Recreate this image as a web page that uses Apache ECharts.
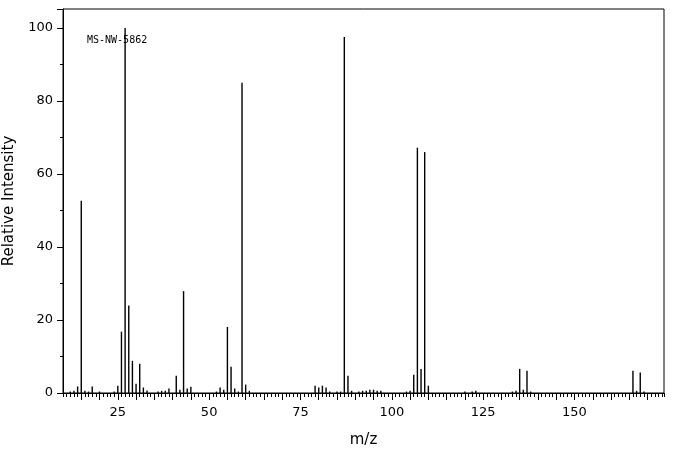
<!DOCTYPE html>
<html>
<head>
<meta charset="utf-8">
<script src="https://cdn.jsdelivr.net/npm/echarts@6/dist/echarts.min.js"></script>
<style>
    html, body { margin: 0; padding: 0; background: #fff; }
    #chart { width: 676px; height: 455px; }
</style>
</head>
<body>
<div id="chart"></div>
<script>
// m/z positions and relative intensities
const mz = [12, 13, 14, 15, 16, 17, 18, 20, 24, 25, 26, 27, 28, 29, 30, 31, 32, 33,
    36, 37, 38, 39, 41, 42, 43, 44, 45, 52, 53, 54, 55, 56, 57, 58, 59, 60, 61,
    79, 80, 81, 82, 83, 85, 86, 87, 88, 89, 91, 92, 93, 94, 95, 96, 97,
    104, 105, 106, 107, 108, 109, 110, 120, 122, 123, 133, 134, 135, 136, 137, 138,
    166, 167, 168, 169];
const intensity = [0.4, 0.6, 1.8, 52.7, 0.6, 0.4, 1.8, 0.4, 0.4, 2.0, 16.8, 100, 24, 8.8, 2.5, 8.0, 1.5, 0.7,
    0.4, 0.6, 0.6, 1.2, 4.7, 0.9, 27.9, 1.2, 1.7, 0.4, 1.5, 0.9, 18.1, 7.2, 1.2, 0.4, 85, 2.3, 0.6,
    2.0, 1.5, 2.0, 1.5, 0.4, 0.4, 0.4, 97.5, 4.7, 0.6, 0.4, 0.6, 0.6, 0.9, 0.9, 0.6, 0.6,
    0.4, 0.6, 5.0, 67.2, 6.6, 66, 2.0, 0.4, 0.4, 0.6, 0.4, 0.6, 6.6, 0.9, 6.1, 0.4,
    6.1, 0.6, 5.6, 0.4];
const xMin = 10;
const xMax = 174.5;
const sampleId = 'MS-NW-5862';

const chart = echarts.init(document.getElementById('chart'));
const labelFont = { color: '#000', fontFamily: 'DejaVu Sans', fontSize: 13 };
const lineBlack = { lineStyle: { color: '#000', width: 1 } };

chart.setOption({
    animation: false,
    grid: {
        left: 63, right: 12, top: 9, bottom: 62,
        outerBoundsMode: 'none',
        show: true, borderColor: '#000', borderWidth: 1,
    },
    xAxis: [
        {
            // unit ticks, carries the name
            type: 'value', position: 'bottom', min: xMin, max: xMax, interval: 1,
            name: 'm/z', nameLocation: 'middle', nameGap: 40,
            nameTextStyle: { color: '#000', fontFamily: 'DejaVu Sans', fontSize: 15 },
            axisLine: lineBlack,
            axisTick: { length: 4, lineStyle: { color: '#000' } },
            axisLabel: { show: false },
            splitLine: { show: false },
        },
        {
            // every 5 units, labels at multiples of 25
            type: 'value', position: 'bottom', offset: 0, min: xMin, max: xMax, interval: 5,
            axisLine: lineBlack,
            axisTick: { length: 7, lineStyle: { color: '#000' } },
            axisLabel: Object.assign({
                margin: 13,
                showMinLabel: false, showMaxLabel: false,
                formatter: (v) => (v % 25 === 0 ? String(v) : ''),
            }, labelFont),
            splitLine: { show: false },
        },
    ],
    yAxis: {
        type: 'value', min: 0, max: 105.2, interval: 20,
        name: 'Relative Intensity', nameLocation: 'middle', nameGap: 46,
        nameTextStyle: { color: '#000', fontFamily: 'DejaVu Sans', fontSize: 15 },
        axisLine: lineBlack,
        axisTick: { length: 6, lineStyle: { color: '#000' } },
        minorTick: { show: true, splitNumber: 2, length: 3, lineStyle: { color: '#000' } },
        axisLabel: Object.assign({ margin: 10, showMaxLabel: false }, labelFont),
        splitLine: { show: false },
    },
    graphic: [{
        type: 'text', left: 87, top: 35,
        style: { text: sampleId, font: '10px "DejaVu Sans Mono"', fill: '#000' },
    }],
    series: [{
        type: 'bar',
        xAxisIndex: 0,
        barWidth: 1.4,
        itemStyle: { color: '#000' },
        data: mz.map((m, i) => [m, intensity[i]]),
    }],
});
</script>
</body>
</html>
